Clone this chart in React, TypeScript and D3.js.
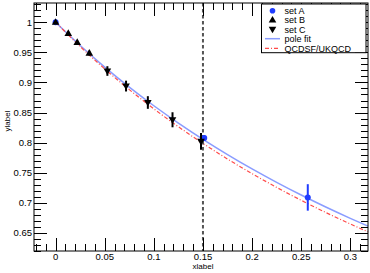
import React from 'react';
import * as d3 from 'd3';

// set A (blue circles)
const setAX = [0, 0.1513, 0.2567];
const setAY = [1.0, 0.8077, 0.709];
const setAErr = [0, 0.005, 0.022];

// set B (triangles up)
const setBX = [0, 0.0129, 0.022, 0.0343];
const setBY = [1.0, 0.9817, 0.9667, 0.9488];
const setBErr = [0.002, 0.003, 0.003, 0.004];

// set C (triangles down)
const setCX = [0.0527, 0.0717, 0.0939, 0.119, 0.148];
const setCY = [0.919, 0.894, 0.8667, 0.838, 0.802];
const setCErr = [0.008, 0.009, 0.0105, 0.0125, 0.014];

// fit curves
const fitX = [0, 0.025, 0.05, 0.075, 0.1, 0.125, 0.15, 0.175, 0.2, 0.225, 0.25, 0.275, 0.3, 0.318];
const poleY = [1, 0.9613, 0.9255, 0.8923, 0.8613, 0.8325, 0.8055, 0.7802, 0.7564, 0.7341, 0.713, 0.6931, 0.6743, 0.6614];
const qcdY = [1, 0.9597, 0.9225, 0.8881, 0.8562, 0.8264, 0.7987, 0.7728, 0.7485, 0.7257, 0.7042, 0.684, 0.6649, 0.6518];

const xTicks = [0, 0.05, 0.1, 0.15, 0.2, 0.25, 0.3];
const yTicks = [0.65, 0.7, 0.75, 0.8, 0.85, 0.9, 0.95, 1];
const cutX = 0.15;

const legendItems = ['set A', 'set B', 'set C', 'pole fit', 'QCDSF/UKQCD'];

const W = 370;
const H = 273;
const frame = { left: 34, right: 368, top: 3, bottom: 251 };
const font = 'Liberation Sans, Arial, sans-serif';

const BLUE = '#1f3cff';
const FIT_BLUE = '#8a9cff';
const RED = '#ff4a4a';

const App: React.FC = () => {
  const x = d3.scaleLinear().domain([-0.022, 0.318]).range([frame.left, frame.right]);
  const y = d3.scaleLinear().domain([0.62, 1.032]).range([frame.bottom, frame.top]);

  const xMinor = d3.range(-2, 32).map(i => i / 100);
  const yMinor = d3.range(62, 104).map(i => i / 100);

  const line = d3.line<[number, number]>()
    .x(d => x(d[0]))
    .y(d => y(d[1]))
    .curve(d3.curveMonotoneX);

  const poleLine = line(fitX.map((v, i) => [v, poleY[i]])) ?? '';
  const qcdLine = line(fitX.map((v, i) => [v, qcdY[i]])) ?? '';

  const triUp = (cx: number, cy: number) =>
    `M${cx},${cy - 4} L${cx + 3.8},${cy + 2.6} L${cx - 3.8},${cy + 2.6} Z`;
  const triDown = (cx: number, cy: number) =>
    `M${cx},${cy + 4} L${cx + 3.8},${cy - 2.6} L${cx - 3.8},${cy - 2.6} Z`;

  const isMajor = (v: number, step: number) => Math.abs(v / step - Math.round(v / step)) < 1e-6;

  const legX = 261.5;
  const legY = 4;
  const rowY = [10.7, 20, 29.3, 38.7, 48.3];

  return (
    <svg width={W} height={H} style={{ position: 'absolute', left: 0, top: 0, background: '#fff' }}>
      {/* fit curves */}
      <path d={poleLine} fill="none" stroke={FIT_BLUE} strokeWidth={1.5} />
      <path d={qcdLine} fill="none" stroke={RED} strokeWidth={1.2} strokeDasharray="4,2,1,2" />

      {/* vertical cut */}
      <line x1={x(cutX)} x2={x(cutX)} y1={frame.top} y2={frame.bottom}
        stroke="#555" strokeWidth={2} strokeDasharray="3.5,2.5" />

      {/* set A */}
      {setAX.map((v, i) => (
        <g key={`a${i}`}>
          {setAErr[i] > 0 && (
            <line x1={x(v)} x2={x(v)} y1={y(setAY[i] - setAErr[i])} y2={y(setAY[i] + setAErr[i])}
              stroke={BLUE} strokeWidth={2} />
          )}
          <circle cx={x(v)} cy={y(setAY[i])} r={3} fill={BLUE} />
        </g>
      ))}

      {/* set B */}
      {setBX.map((v, i) => (
        <g key={`b${i}`}>
          <line x1={x(v)} x2={x(v)} y1={y(setBY[i] - setBErr[i])} y2={y(setBY[i] + setBErr[i])}
            stroke="#000" strokeWidth={2} />
          <path d={triUp(x(v), y(setBY[i]))} fill="#000" />
        </g>
      ))}

      {/* set C */}
      {setCX.map((v, i) => (
        <g key={`c${i}`}>
          <line x1={x(v)} x2={x(v)} y1={y(setCY[i] - setCErr[i])} y2={y(setCY[i] + setCErr[i])}
            stroke="#000" strokeWidth={2} />
          <path d={triDown(x(v), y(setCY[i]))} fill="#000" />
        </g>
      ))}

      {/* frame */}
      <rect x={frame.left} y={frame.top} width={frame.right - frame.left} height={frame.bottom - frame.top}
        fill="none" stroke="#000" strokeWidth={1} />

      {/* x ticks, bottom and top */}
      {xMinor.map(v => {
        const len = isMajor(v, 0.05) ? 13 : 7;
        const px = Math.round(x(v)) + 0.5;
        return (
          <g key={`xt${v}`} stroke="#000" strokeWidth={1}>
            <line x1={px} x2={px} y1={frame.bottom} y2={frame.bottom - len} />
            <line x1={px} x2={px} y1={frame.top} y2={frame.top + len} />
          </g>
        );
      })}

      {/* y ticks, left and right */}
      {yMinor.map(v => {
        const len = isMajor(v, 0.05) ? 13 : 7;
        const py = Math.round(y(v)) + 0.5;
        return (
          <g key={`yt${v}`} stroke="#000" strokeWidth={1}>
            <line x1={frame.left} x2={frame.left + len} y1={py} y2={py} />
            <line x1={frame.right} x2={frame.right - len} y1={py} y2={py} />
          </g>
        );
      })}

      {/* tick labels */}
      {xTicks.map(v => (
        <text key={`xl${v}`} x={x(v)} y={260} textAnchor="middle" fontSize={9.5} fontFamily={font}>
          {d3.format('~g')(v)}
        </text>
      ))}
      {yTicks.map(v => (
        <text key={`yl${v}`} x={frame.left - 2} y={y(v) + 3.5} textAnchor="end" fontSize={9.5} fontFamily={font}>
          {d3.format('~g')(v)}
        </text>
      ))}

      {/* axis titles */}
      <text x={203} y={269} textAnchor="middle" fontSize={8} fontFamily={font}>xlabel</text>
      <text transform={`translate(10,121) rotate(-90)`} textAnchor="middle" fontSize={8} fontFamily={font}>ylabel</text>

      {/* legend */}
      <rect x={legX} y={legY} width={104.5} height={48.7} fill="#fff" stroke="#000" strokeWidth={1} />
      <circle cx={272.5} cy={rowY[0]} r={2.8} fill={BLUE} />
      <path d={triUp(272.5, rowY[1])} fill="#000" />
      <path d={triDown(272.5, rowY[2])} fill="#000" />
      <line x1={265} x2={280} y1={rowY[3]} y2={rowY[3]} stroke={FIT_BLUE} strokeWidth={1.5} />
      <line x1={265} x2={280} y1={rowY[4]} y2={rowY[4]} stroke={RED} strokeWidth={1.2} strokeDasharray="4,2,1,2" />
      {legendItems.map((t, i) => (
        <text key={t} x={284.5} y={rowY[i] + 3.3} fontSize={9} fontFamily={font}>{t}</text>
      ))}
    </svg>
  );
};

export default App;
